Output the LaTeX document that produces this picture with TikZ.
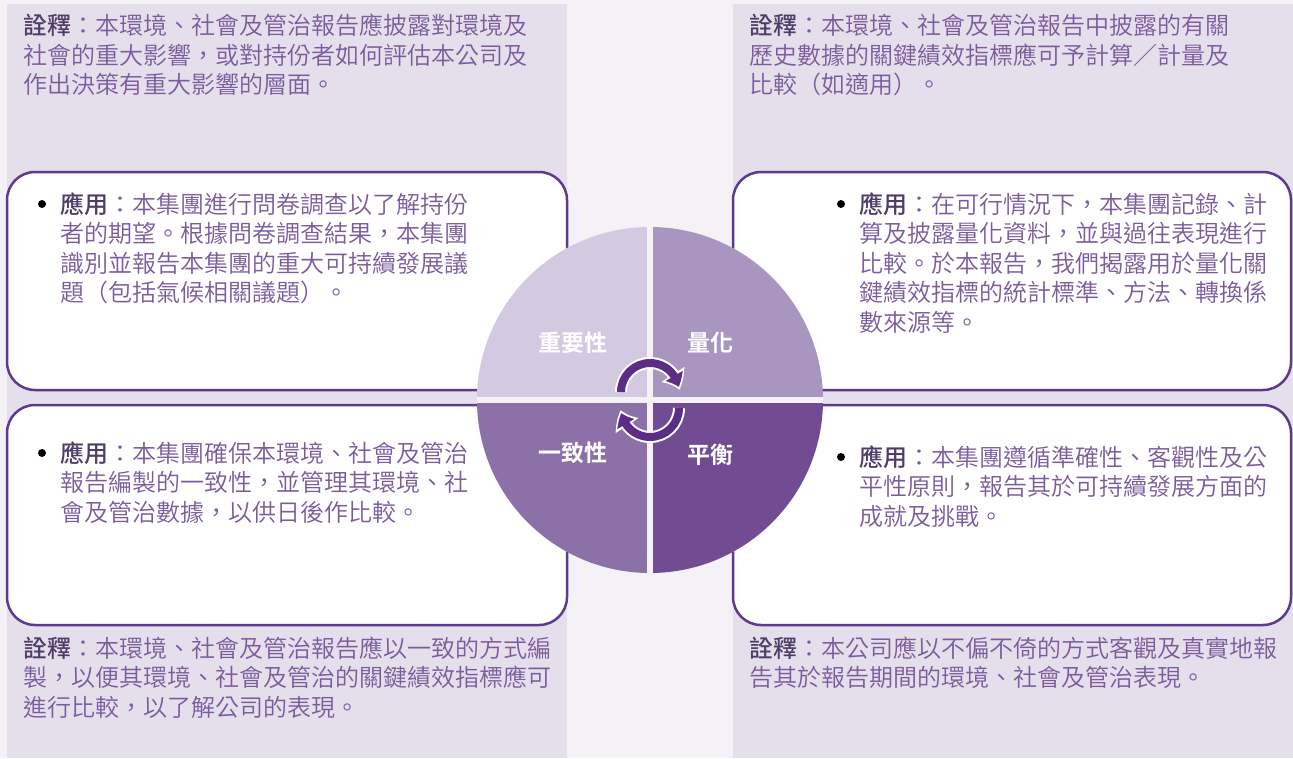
\documentclass[tikz,border=0pt]{standalone}
\usepackage{fontspec}
\setmainfont{Noto Sans CJK TC}[UprightFont={* DemiLight}, BoldFont={* Medium}]
\newfontfamily\labelfont{Noto Sans CJK TC}[UprightFont={* Bold}]
\usetikzlibrary{arrows.meta,bending}
\definecolor{page}{HTML}{F4F2F7}
\definecolor{panel}{HTML}{E5DFEB}
\definecolor{frame}{HTML}{5E3A8C}
\definecolor{body}{HTML}{7B5B9D}
\definecolor{head}{HTML}{4F3C68}
\definecolor{quadA}{HTML}{D3C9E0}
\definecolor{quadB}{HTML}{A996C0}
\definecolor{quadC}{HTML}{8C70A8}
\definecolor{quadD}{HTML}{714C93}
\definecolor{loop}{HTML}{5B2D86}
\tikzset{
    app-box/.style = {draw=frame, fill=white, line width=2.5pt, rounded corners=28pt},
    body-text/.style = {text=body, anchor=base west, align=left, inner sep=0pt, font=\fontsize{24pt}{29.5pt}\selectfont},
    quad-label/.style = {text=white, inner sep=0pt, font=\fontsize{23pt}{23pt}\selectfont\labelfont},
    loop-under/.style = {draw=white, line width=12pt, -{Triangle[width=26pt,length=17pt,bend]}, shorten >=-3pt},
    loop-arrow/.style = {draw=loop, line width=8pt, -{Triangle[width=19pt,length=12pt,bend]}},
}
\newcommand{\hd}[1]{\textcolor{head}{\textbf{#1}}}

\begin{document}
\begin{tikzpicture}[x=1pt,y=1pt]
\useasboundingbox (0,0) rectangle (1293,-758);
\fill[page] (0,0) rectangle (1293,-758);
\fill[panel] (7,-4) rectangle (567,-758);
\fill[panel] (733,-4) rectangle (1293,-758);

% application boxes
\draw[app-box] (7,-172) rectangle (567,-390);
\draw[app-box] (733,-172) rectangle (1291,-390);
\draw[app-box] (7,-405) rectangle (567,-625);
\draw[app-box] (733,-405) rectangle (1291,-625);

% the four principles
\coordinate (hub) at (650,-400);
\begin{scope}
\clip (hub) circle (173pt);
\fill[page] (hub) circle (173pt);
\fill[quadA] ([shift={(-3,3)}]hub) rectangle ++(-180,180);
\fill[quadB] ([shift={(3,3)}]hub) rectangle ++(180,180);
\fill[quadC] ([shift={(-3,-3)}]hub) rectangle ++(-180,-180);
\fill[quadD] ([shift={(3,-3)}]hub) rectangle ++(180,-180);
\end{scope}
\node[quad-label] (materiality) at (573,-343) {重要性};
\node[quad-label] (quantitative) at (710,-343) {量化};
\node[quad-label] (consistency) at (573,-453) {一致性};
\node[quad-label] (balance) at (710,-455) {平衡};

\draw[loop-under] (621,-392) arc[start angle=180, end angle=10, radius=29pt];
\draw[loop-arrow] (621,-392) arc[start angle=180, end angle=10, radius=29pt];
\draw[loop-under] (679,-408) arc[start angle=0, end angle=-170, radius=29pt];
\draw[loop-arrow] (679,-408) arc[start angle=0, end angle=-170, radius=29pt];

% notes and applications (placed at the baseline of the last line)
\node[body-text] (matnote) at (23,-93.5) {\hd{詮釋}：本環境、社會及管治報告應披露對環境及\\社會的重大影響，或對持份者如何評估本公司及\\作出決策有重大影響的層面。};
\node[body-text] (quannote) at (749,-93.5) {\hd{詮釋}：本環境、社會及管治報告中披露的有關\\歷史數據的關鍵績效指標應可予計算／計量及\\比較（如適用）。};
\node[body-text] (matapp) at (60,-301.5) {\hd{應用}：本集團進行問卷調查以了解持份\\者的期望。根據問卷調查結果，本集團\\識別並報告本集團的重大可持續發展議\\題（包括氣候相關議題）。};
\node[body-text] (quanapp) at (859,-331) {\hd{應用}：在可行情況下，本集團記錄、計\\算及披露量化資料，並與過往表現進行\\比較。於本報告，我們揭露用於量化關\\鍵績效指標的統計標準、方法、轉換係\\數來源等。};
\node[body-text] (conapp) at (60,-521) {\hd{應用}：本集團確保本環境、社會及管治\\報告編製的一致性，並管理其環境、社\\會及管治數據，以供日後作比較。};
\node[body-text] (balapp) at (859,-525) {\hd{應用}：本集團遵循準確性、客觀性及公\\平性原則，報告其於可持續發展方面的\\成就及挑戰。};
\node[body-text] (connote) at (23,-716) {\hd{詮釋}：本環境、社會及管治報告應以一致的方式編\\製，以便其環境、社會及管治的關鍵績效指標應可\\進行比較，以了解公司的表現。};
\node[body-text] (balnote) at (749,-686.5) {\hd{詮釋}：本公司應以不偏不倚的方式客觀及真實地報\\告其於報告期間的環境、社會及管治表現。};

% bullets beside the first lines
\fill[loop] ([shift={(-18,97.5)}]matapp.base west) circle (4pt);
\fill[loop] ([shift={(-18,127)}]quanapp.base west) circle (4pt);
\fill[loop] ([shift={(-18,68)}]conapp.base west) circle (4pt);
\fill[loop] ([shift={(-18,68)}]balapp.base west) circle (4pt);
\end{tikzpicture}
\end{document}
